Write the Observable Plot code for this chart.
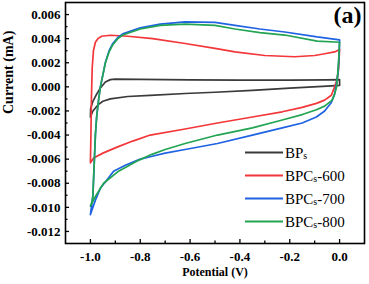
<!DOCTYPE html>
<html><head><meta charset="utf-8">
<script src="https://cdn.jsdelivr.net/npm/d3@7"></script>
<script src="https://cdn.jsdelivr.net/npm/@observablehq/plot@0.6"></script>
<style>
body{margin:0;background:#fff}
#chart svg, #chart svg text, #chart svg tspan { font-family: "Liberation Serif", "Times New Roman", serif !important; }
</style>
</head><body><div id="chart"></div>
<script>
const seriesNames = ["BPs", "BPCs-600", "BPCs-700", "BPCs-800"];
const seriesColors = ["#3a3a3a", "#f2363a", "#1f63e2", "#22a452"];

const xTicks = [-1.0, -0.8, -0.6, -0.4, -0.2, 0.0];
const xMinorTicks = [-0.9, -0.7, -0.5, -0.3, -0.1];
const yTicks = [0.006, 0.004, 0.002, 0.0, -0.002, -0.004, -0.006, -0.008, -0.010, -0.012];
const yMinorTicks = [0.005, 0.003, 0.001, -0.001, -0.003, -0.005, -0.007, -0.009, -0.011];

// BPs
const bpsPotential = [-1.0, -0.999, -0.99, -0.975, -0.96, -0.94, -0.92, -0.9, -0.8, -0.6, -0.4, -0.2, -0.05, 0.0, 0.0, -0.05, -0.2, -0.35, -0.5, -0.62, -0.76, -0.85, -0.92, -0.95, -0.97, -0.99, -1.0];
const bpsCurrent = [-0.0025, -0.0018, -0.0012, -0.0006, -0.0001, 0.0004, 0.0006, 0.00064, 0.00062, 0.00058, 0.00055, 0.00055, 0.00058, 0.0006, 0.00012, 0.00006, -0.0001, -0.0003, -0.00045, -0.00055, -0.0007, -0.0008, -0.001, -0.0012, -0.0015, -0.002, -0.0025];

// BPCs-600
const bpc600Potential = [-1.0, -0.998, -0.996, -0.993, -0.988, -0.98, -0.97, -0.955, -0.92, -0.85, -0.75, -0.62, -0.5, -0.42, -0.3, -0.18, -0.1, -0.06, -0.02, 0.0, -0.004, -0.01, -0.02, -0.033, -0.06, -0.093, -0.15, -0.23, -0.35, -0.49, -0.62, -0.76, -0.83, -0.893, -0.95, -0.987, -1.0];
const bpc600Current = [-0.0063, -0.004, -0.001, 0.0015, 0.003, 0.0037, 0.004, 0.0042, 0.00428, 0.0042, 0.004, 0.0036, 0.0032, 0.0029, 0.0026, 0.0025, 0.0026, 0.00275, 0.0029, 0.0031, 0.0015, 0.0006, 0.0, -0.0007, -0.0011, -0.00137, -0.0017, -0.00207, -0.0025, -0.003, -0.0035, -0.004, -0.0045, -0.005, -0.0055, -0.0059, -0.0063];

// BPCs-700
const bpc700Potential = [-1.0, -0.993, -0.99, -0.988, -0.984, -0.98, -0.975, -0.968, -0.96, -0.95, -0.94, -0.925, -0.91, -0.89, -0.87, -0.8, -0.72, -0.62, -0.5, -0.42, -0.32, -0.22, -0.09, 0.0, -0.002, -0.006, -0.012, -0.02, -0.033, -0.06, -0.093, -0.15, -0.23, -0.35, -0.49, -0.62, -0.7, -0.76, -0.8, -0.86, -0.907, -0.94, -0.96, -0.98, -1.0];
const bpc700Current = [-0.0106, -0.0095, -0.009, -0.008, -0.006, -0.004, -0.0025, -0.0012, 0.0, 0.001, 0.002, 0.003, 0.0036, 0.0041, 0.0044, 0.0049, 0.0052, 0.0054, 0.00535, 0.0051, 0.0048, 0.00455, 0.00414, 0.0039, 0.0025, 0.0012, 0.0003, -0.0006, -0.0013, -0.002, -0.0025, -0.003, -0.0034, -0.004, -0.0047, -0.0052, -0.0055, -0.0058, -0.006, -0.0065, -0.007, -0.0079, -0.0084, -0.0094, -0.0106];

// BPCs-800
const bpc800Potential = [-1.0, -0.993, -0.99, -0.988, -0.984, -0.98, -0.975, -0.968, -0.96, -0.95, -0.94, -0.925, -0.91, -0.89, -0.87, -0.8, -0.72, -0.62, -0.5, -0.42, -0.32, -0.22, -0.09, 0.0, -0.003, -0.007, -0.012, -0.02, -0.03, -0.06, -0.093, -0.15, -0.23, -0.35, -0.49, -0.62, -0.7, -0.753, -0.807, -0.887, -0.947, -0.98, -1.0];
const bpc800Current = [-0.0099, -0.0095, -0.009, -0.008, -0.006, -0.004, -0.0025, -0.0012, 0.0, 0.001, 0.002, 0.0029, 0.0035, 0.004, 0.0043, 0.0048, 0.0051, 0.0052, 0.0051, 0.0048, 0.0045, 0.0043, 0.0038, 0.0037, 0.0025, 0.0012, 0.0, -0.0006, -0.0011, -0.0016, -0.0019, -0.0023, -0.00275, -0.0034, -0.004, -0.0047, -0.0052, -0.0056, -0.0061, -0.007, -0.008, -0.0091, -0.0099];

const seriesPotentials = [bpsPotential, bpc600Potential, bpc700Potential, bpc800Potential];
const seriesCurrents = [bpsCurrent, bpc600Current, bpc700Current, bpc800Current];

const data = seriesNames.flatMap((name, i) =>
  seriesPotentials[i].map((v, j) => ({series: name, potential: v, current: seriesCurrents[i][j]}))
);

const serif = "Liberation Serif, Times New Roman, serif";

const chart = Plot.plot({
  width: 369, height: 284,
  marginLeft: 65, marginRight: 5, marginTop: 2, marginBottom: 41,
  x: {domain: [-1.1, 0.1]},
  y: {domain: [-0.013, 0.007]},
  color: {domain: seriesNames, range: seriesColors},
  style: {fontFamily: serif, fontSize: "13px", fontWeight: "bold", background: "white", color: "black"},
  marks: [
    Plot.axisX(xTicks, {tickSize: -4, tickPadding: 12, tickFormat: d => d.toFixed(1), label: null, strokeWidth: 1.3, fontFamily: serif}),
    Plot.axisX(xMinorTicks, {tickSize: -2.5, tickFormat: () => "", label: null, strokeWidth: 1.3}),
    Plot.axisY(yTicks, {tickSize: -4, tickPadding: 9, tickFormat: d => d.toFixed(3), label: null, strokeWidth: 1.3, fontFamily: serif}),
    Plot.axisY(yMinorTicks, {tickSize: -2.5, tickFormat: () => "", label: null, strokeWidth: 1.3}),
    Plot.line(data, {x: "potential", y: "current", z: "series", stroke: "series", strokeWidth: 1.7}),
    Plot.frame({stroke: "black", strokeWidth: 1.6}),
    Plot.text(["(a)"], {frameAnchor: "top-right", dx: -3, dy: 13, fontSize: 24, fontWeight: "bold", fontFamily: serif, textAnchor: "end", lineAnchor: "middle"}),
    Plot.text(["Current (mA)"], {frameAnchor: "left", rotate: -90, dx: -57, dy: -9, fontSize: 14, fontWeight: "bold", fontFamily: serif, lineAnchor: "middle"}),
    Plot.text(["Potential (V)"], {frameAnchor: "bottom", dy: 29, fontSize: 12, fontWeight: "bold", fontFamily: serif, lineAnchor: "middle"})
  ]
});

// legend inside the plot area
const svg = d3.select(chart);
const lg = svg.append("g").attr("font-family", serif).attr("font-size", 15).attr("font-weight", "normal").attr("text-anchor", "start");
const legendX = 245, legendLen = 38, legendTop = 152.5, legendStep = 23;
seriesNames.forEach((name, i) => {
  const y = legendTop + i * legendStep;
  lg.append("line").attr("x1", legendX).attr("x2", legendX + legendLen).attr("y1", y).attr("y2", y)
    .attr("stroke", seriesColors[i]).attr("stroke-width", 2);
  const m = name.match(/^(BPC?)s(.*)$/);
  const t = lg.append("text").attr("x", legendX + legendLen + 2).attr("y", y + 5).attr("fill", "black");
  t.append("tspan").text(m[1]);
  t.append("tspan").attr("font-size", 10).attr("dy", 1).text("s");
  t.append("tspan").attr("dy", -1).text(m[2]);
});

document.getElementById("chart").appendChild(chart);
</script>
</body></html>
